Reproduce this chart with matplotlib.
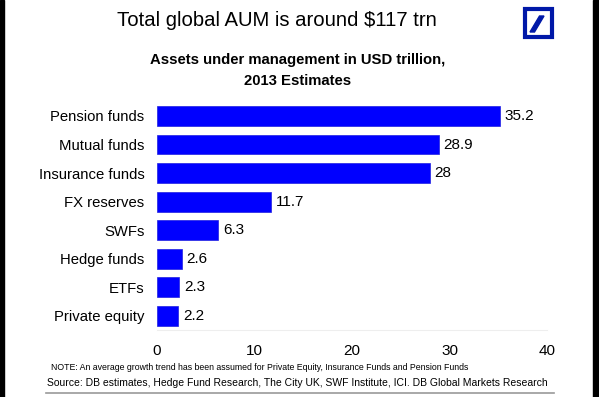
import matplotlib
matplotlib.use("Agg")
import matplotlib.pyplot as plt
from matplotlib.patches import Rectangle, Polygon
from matplotlib.lines import Line2D

categories = ["Pension funds", "Mutual funds", "Insurance funds", "FX reserves",
              "SWFs", "Hedge funds", "ETFs", "Private equity"]
values = [35.2, 28.9, 28, 11.7, 6.3, 2.6, 2.3, 2.2]
value_labels = ["35.2", "28.9", "28", "11.7", "6.3", "2.6", "2.3", "2.2"]
xticks = [0, 10, 20, 30, 40]

plt.rcParams['font.family'] = ['Liberation Sans', 'DejaVu Sans']

fig = plt.figure(figsize=(5.99, 3.97), dpi=100)
W, H = 599, 397
ax = fig.add_axes([157/W, 1-330/H, (547-157)/W, (330-101.7)/H])

ypos = list(range(len(categories)))[::-1]
ax.barh(ypos, values, height=0.7, color="#0000FF", edgecolor="#2020E0", linewidth=0.5)
for y, v, lab in zip(ypos, values, value_labels):
    ax.text(v + 0.45, y, lab, va="center", ha="left", fontsize=11)

ax.set_xlim(0, 40)
ax.set_ylim(-0.5, 7.5)
ax.set_yticks(ypos)
ax.set_yticklabels(categories, fontsize=10.7)
ax.set_xticks(xticks)
ax.set_xticklabels([str(t) for t in xticks], fontsize=11)
ax.tick_params(axis="both", length=0)
ax.tick_params(axis="y", pad=9)
ax.tick_params(axis="x", pad=10)
for s in ["top", "right", "left"]:
    ax.spines[s].set_visible(False)
ax.spines["bottom"].set_color("#eeeeee")
ax.spines["bottom"].set_linewidth(0.8)

fig.text(277/W, 1-21/H, "Total global AUM is around $117 trn", ha="center", va="center", fontsize=14.6)
fig.text(298/W, 1-60/H, "Assets under management in USD trillion,", ha="center", va="center",
         fontsize=10.75, fontweight="bold")
fig.text(298/W, 1-81/H, "2013 Estimates", ha="center", va="center", fontsize=10.75, fontweight="bold")
fig.text(51/W, 1-367/H, "NOTE: An average growth trend has been assumed for Private Equity, Insurance Funds and Pension Funds",
         ha="left", va="center", fontsize=6.35)
fig.text(47/W, 1-383/H, "Source: DB estimates, Hedge Fund Research, The City UK, SWF Institute, ICI. DB Global Markets Research",
         ha="left", va="center", fontsize=7.5)

# bottom grey rule
fig.add_artist(Line2D([46/W, 554/W], [1-393/H, 1-393/H], color="#999999", lw=1.2))

# black side borders
fig.add_artist(Rectangle((0, 0), 4/W, 1, color="black", transform=fig.transFigure))
fig.add_artist(Rectangle((593/W, 0), 6/W, 1, color="black", transform=fig.transFigure))

# DB logo
lx0, ly0, ls = 523, 8, 30
db = "#0018A8"
fig.add_artist(Rectangle(((lx0+1.5)/W, 1-(ly0+ls-1.5)/H), (ls-3)/W, (ls-3)/H, facecolor="none", edgecolor=db,
                         lw=3.0, transform=fig.transFigure))
sl = [(lx0+7, ly0+24), (lx0+11.5, ly0+24), (lx0+21, ly0+8), (lx0+16.5, ly0+8)]
fig.add_artist(Polygon([(x/W, 1-y/H) for x, y in sl], closed=True, color=db, transform=fig.transFigure))

fig.savefig("out.png", dpi=100, facecolor="white")
